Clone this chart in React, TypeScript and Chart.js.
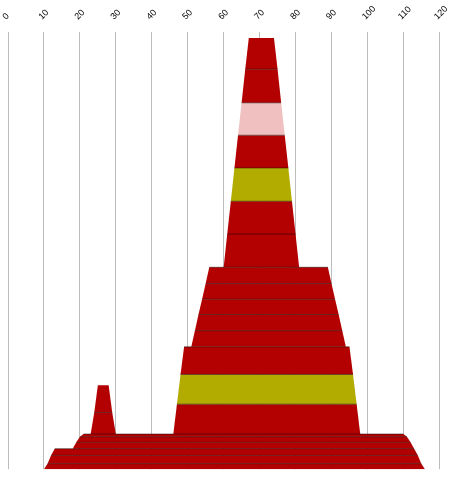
import React, { useEffect, useRef } from "react";
import { Chart, registerables } from "chart.js";

Chart.register(...registerables);

// x tick range
const xTicksMin = 0;
const xTicksMax = 120;
const xTickStep = 10;

// Big cone (7 bands)
const coneLevels = [98.6, 91.5, 83.8, 76.4, 68.9, 61.3, 53.8, 46.2];
const coneLeft = [67, 66, 65, 64, 63, 62, 61, 60];
const coneRight = [74, 75, 76, 77, 78, 79, 80, 81];
const coneKinds = ["main", "main", "light", "main", "accent", "main", "main"];

// Middle section (5 bands)
const midLevels = [46.2, 42.5, 38.9, 35.4, 31.7, 28.0];
const midLeft = [56, 55, 54, 53, 52, 51];
const midRight = [89, 90, 91, 92, 93, 94];
const midKinds = ["main", "main", "main", "main", "main"];

// Base section (3 bands)
const baseLevels = [28.0, 21.7, 14.9, 8.07];
const baseLeft = [49, 48, 47, 46];
const baseRight = [95, 96, 97, 98];
const baseKinds = ["main", "accent", "main"];

// Small cone (2 bands)
const smallLevels = [19.2, 13.0, 8.07];
const smallLeft = [25, 24, 23];
const smallRight = [28, 29, 30];
const smallKinds = ["main", "main"];

// Foot, upper part (3 bands)
const footALevels = [8.07, 7.45, 6.17, 4.71];
const footALeft = [21, 20, 19, 18];
const footARight = [110, 111, 112, 113];
const footAKinds = ["main", "main", "main"];

// Foot, lower part (3 bands)
const footBLevels = [4.71, 3.2, 1.28, 0];
const footBLeft = [13, 12, 11, 10];
const footBRight = [113, 114, 115, 116];
const footBKinds = ["main", "main", "main"];

const palette: Record<string, string> = {
  main: "#B30000",
  light: "#F0C0C0",
  accent: "#B3AC00",
};

const groups = [
  { levels: coneLevels, left: coneLeft, right: coneRight, kinds: coneKinds },
  { levels: midLevels, left: midLeft, right: midRight, kinds: midKinds },
  { levels: baseLevels, left: baseLeft, right: baseRight, kinds: baseKinds },
  { levels: smallLevels, left: smallLeft, right: smallRight, kinds: smallKinds },
  { levels: footALevels, left: footALeft, right: footARight, kinds: footAKinds },
  { levels: footBLevels, left: footBLeft, right: footBRight, kinds: footBKinds },
];

function buildDatasets() {
  const bands: any[] = [];
  const dividers: any[] = [];
  const bottoms = new Set<number>();
  groups.forEach((g) => {
    for (let i = 1; i < g.levels.length; i++) bottoms.add(g.levels[i]);
  });
  groups.forEach((g) => {
    for (let i = 0; i < g.kinds.length; i++) {
      const top = g.levels[i];
      const bot = g.levels[i + 1];
      const color = palette[g.kinds[i]];
      bands.push({
        type: "line",
        data: [
          { x: g.left[i], y: top },
          { x: g.right[i], y: top },
          { x: g.right[i + 1], y: bot },
          { x: g.left[i + 1], y: bot },
          { x: g.left[i], y: top },
        ],
        showLine: true,
        fill: "shape",
        backgroundColor: color,
        borderColor: color,
        borderWidth: 0,
        pointRadius: 0,
        tension: 0,
        order: 2,
      });
      if (bottoms.has(top)) {
        dividers.push({
          type: "line",
          data: [
            { x: g.left[i], y: top },
            { x: g.right[i], y: top },
          ],
          showLine: true,
          fill: false,
          borderColor: "rgba(0,0,0,0.45)",
          borderWidth: 1,
          pointRadius: 0,
          order: 1,
        });
      }
    }
  });
  return [...dividers, ...bands];
}

export default function App() {
  const ref = useRef<HTMLCanvasElement | null>(null);
  useEffect(() => {
    if (!ref.current) return;
    const chart = new Chart(ref.current, {
      type: "scatter",
      data: { datasets: buildDatasets() },
      options: {
        animation: false,
        responsive: false,
        events: [],
        layout: { padding: { left: 8, right: 12.7, top: 0, bottom: 7.7 } },
        plugins: { legend: { display: false }, tooltip: { enabled: false } },
        scales: {
          x: {
            type: "linear",
            position: "top",
            min: xTicksMin,
            max: xTicksMax,
            grid: { color: "#BDBDBD", drawTicks: false, lineWidth: 1 },
            border: { display: false },
            ticks: {
              stepSize: xTickStep,
              autoSkip: false,
              minRotation: 45,
              maxRotation: 45,
              padding: 10,
              labelOffset: 4,
              color: "#000",
              font: { family: "'Liberation Sans', Arial, sans-serif", size: 9 },
            },
            afterFit: (scale: any) => {
              scale.height = 32;
              scale.paddingLeft = 0;
              scale.paddingRight = 0;
            },
          },
          y: {
            type: "linear",
            display: false,
            min: 0,
            max: 100,
          },
        },
      } as any,
    });
    return () => chart.destroy();
  }, []);
  return (
    <div style={{ position: "absolute", left: 0, top: 0, width: 452, height: 477 }}>
      <canvas ref={ref} width={452} height={477} style={{ display: "block" }} />
    </div>
  );
}
